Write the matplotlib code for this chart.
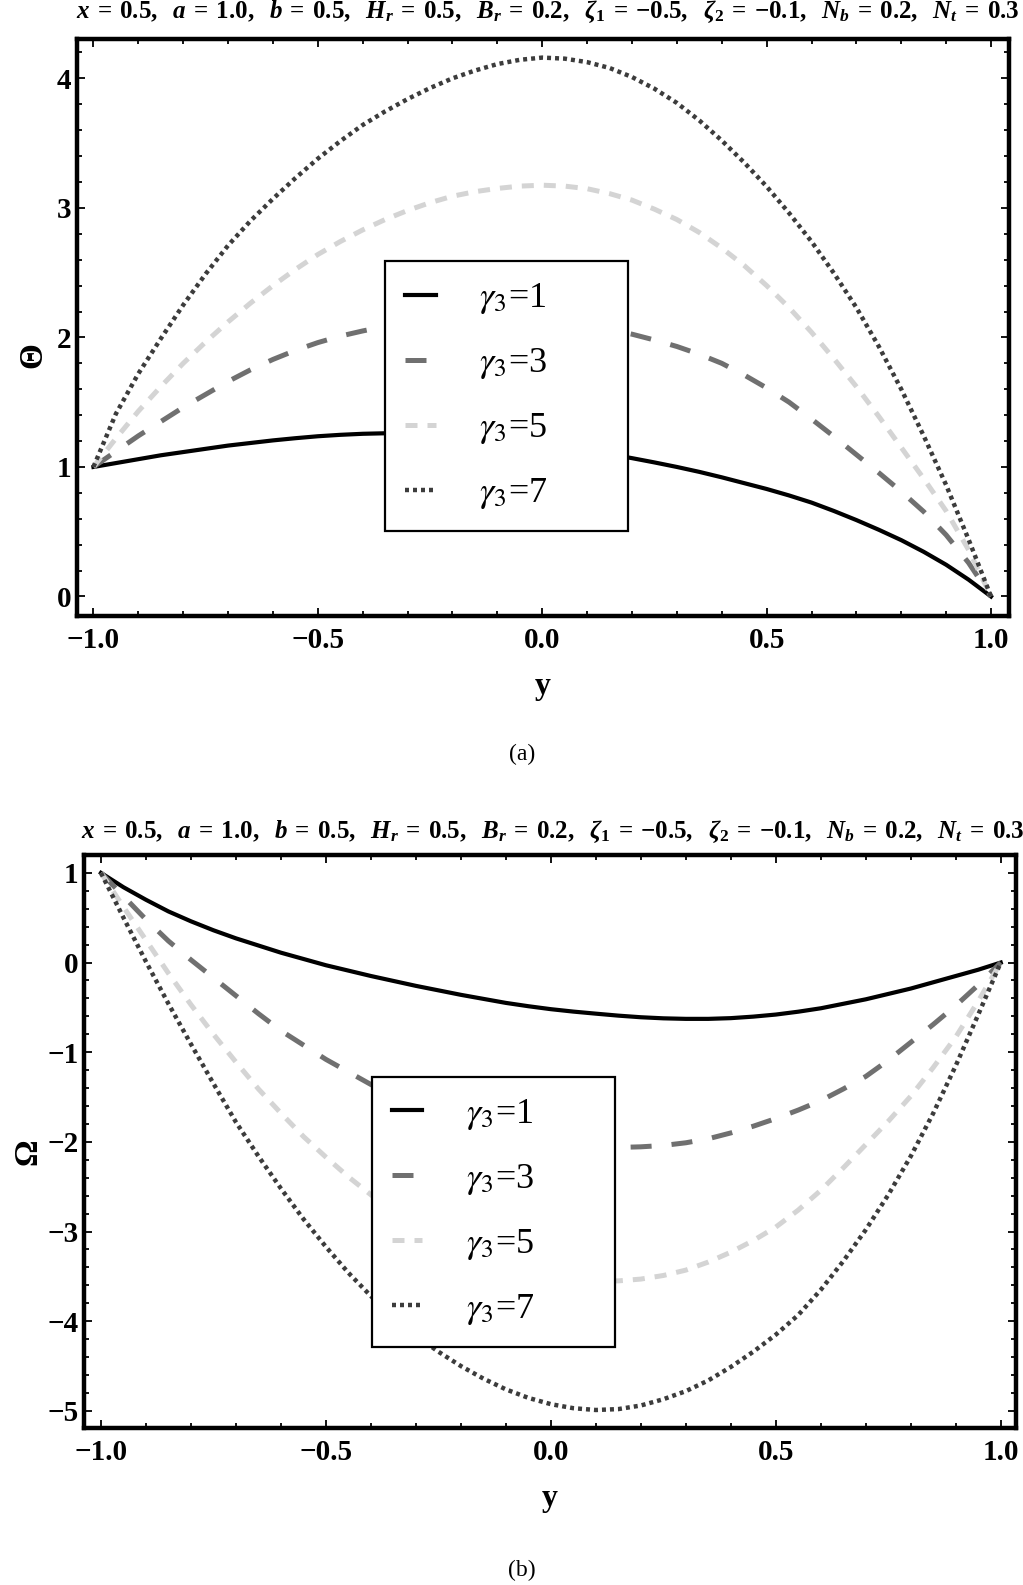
import matplotlib
matplotlib.use("Agg")
import matplotlib.pyplot as plt
from matplotlib.font_manager import FontProperties
from matplotlib.ticker import MultipleLocator

plt.rcParams['font.family'] = ['Liberation Serif', 'DejaVu Serif']
plt.rcParams['mathtext.fontset'] = 'custom'
plt.rcParams['mathtext.rm'] = 'Liberation Serif:bold'
plt.rcParams['mathtext.it'] = 'Liberation Serif:italic:bold'
plt.rcParams['mathtext.bf'] = 'Liberation Serif:bold'

# ---- data ----
gammas = [1, 3, 5, 7]
labels = [r'$\gamma_3$=%d' % g for g in gammas]
params = [('x', '0.5'), ('a', '1.0'), ('b', '0.5'), ('H_r', '0.5'), ('B_r', '0.2'),
          (r'\zeta_1', '-0.5'), (r'\zeta_2', '-0.1'), ('N_b', '0.2'), ('N_t', '0.3')]
title = '$' + r',\ \;'.join(r'%s\:=\:%s' % p for p in params) + '$'

y_a = [-1.0, -0.95, -0.9, -0.85, -0.8, -0.75, -0.7, -0.65, -0.6, -0.55, -0.5, -0.45,
       -0.4, -0.35, -0.3, -0.25, -0.2, -0.15, -0.1, -0.05, 0.0, 0.05, 0.1, 0.15, 0.2,
       0.25, 0.3, 0.35, 0.4, 0.45, 0.5, 0.55, 0.6, 0.65, 0.7, 0.75, 0.8, 0.85, 0.9,
       0.95, 1.0]
theta_g1 = [1.0, 1.03, 1.06, 1.09, 1.115, 1.14, 1.165, 1.185, 1.205, 1.222, 1.237, 1.248,
            1.256, 1.26, 1.261, 1.258, 1.25, 1.238, 1.222, 1.202, 1.18, 1.155, 1.128,
            1.099, 1.068, 1.035, 1.0, 0.962, 0.92, 0.875, 0.83, 0.78, 0.725, 0.66, 0.59,
            0.515, 0.435, 0.345, 0.245, 0.13, 0.0]
theta_g3 = [1.0, 1.12, 1.24, 1.35, 1.46, 1.56, 1.66, 1.75, 1.83, 1.90, 1.96, 2.01,
            2.05, 2.085, 2.11, 2.13, 2.143, 2.15, 2.152, 2.146, 2.13, 2.115, 2.09,
            2.06, 2.025, 1.98, 1.93, 1.87, 1.80, 1.71, 1.61, 1.50, 1.37, 1.235, 1.095,
            0.955, 0.81, 0.655, 0.475, 0.26, 0.0]
theta_g5 = [1.0, 1.22, 1.43, 1.62, 1.80, 1.965, 2.12, 2.265, 2.40, 2.525, 2.64, 2.74,
            2.83, 2.91, 2.98, 3.04, 3.09, 3.125, 3.15, 3.168, 3.175, 3.168, 3.148,
            3.11, 3.06, 2.99, 2.91, 2.81, 2.69, 2.555, 2.40, 2.23, 2.04, 1.835, 1.62,
            1.39, 1.15, 0.91, 0.66, 0.36, 0.0]
theta_g7 = [1.0, 1.41, 1.72, 1.99, 2.25, 2.49, 2.71, 2.90, 3.07, 3.23, 3.38, 3.515,
            3.64, 3.745, 3.84, 3.925, 4.00, 4.06, 4.11, 4.143, 4.16, 4.152, 4.125,
            4.08, 4.01, 3.92, 3.81, 3.675, 3.52, 3.35, 3.165, 2.96, 2.74, 2.495, 2.23,
            1.93, 1.60, 1.24, 0.86, 0.44, 0.0]

y_b = [-1.0, -0.95, -0.9, -0.85, -0.8, -0.75, -0.7, -0.65, -0.6, -0.55, -0.5, -0.45,
       -0.4, -0.35, -0.3, -0.25, -0.2, -0.15, -0.1, -0.05, 0.0, 0.05, 0.1, 0.15, 0.2,
       0.25, 0.3, 0.35, 0.4, 0.45, 0.5, 0.55, 0.6, 0.65, 0.7, 0.75, 0.8, 0.85, 0.9,
       0.95, 1.0]
omega_g1 = [1.0, 0.84, 0.70, 0.57, 0.46, 0.36, 0.27, 0.19, 0.11, 0.04, -0.03, -0.09,
            -0.15, -0.205, -0.26, -0.31, -0.36, -0.405, -0.45, -0.487, -0.52, -0.547,
            -0.57, -0.592, -0.61, -0.622, -0.628, -0.628, -0.62, -0.603, -0.58, -0.548,
            -0.51, -0.46, -0.41, -0.35, -0.29, -0.22, -0.15, -0.08, 0.0]
omega_g3 = [1.0, 0.74, 0.48, 0.24, 0.03, -0.17, -0.37, -0.57, -0.76, -0.92, -1.08, -1.22,
            -1.36, -1.485, -1.60, -1.70, -1.79, -1.865, -1.93, -1.98, -2.02, -2.045,
            -2.06, -2.062, -2.055, -2.04, -2.01, -1.965, -1.90, -1.825, -1.74, -1.645,
            -1.54, -1.41, -1.27, -1.09, -0.89, -0.69, -0.48, -0.25, 0.0]
omega_g5 = [1.0, 0.62, 0.25, -0.12, -0.47, -0.80, -1.11, -1.41, -1.68, -1.94, -2.17, -2.39,
            -2.59, -2.77, -2.93, -3.07, -3.19, -3.295, -3.38, -3.45, -3.50, -3.535,
            -3.55, -3.55, -3.53, -3.49, -3.43, -3.34, -3.23, -3.10, -2.95, -2.76,
            -2.54, -2.29, -2.03, -1.77, -1.49, -1.17, -0.83, -0.43, 0.0]
omega_g7 = [1.0, 0.50, 0.01, -0.46, -0.91, -1.35, -1.78, -2.16, -2.52, -2.86, -3.17, -3.46,
            -3.72, -3.95, -4.16, -4.34, -4.50, -4.64, -4.76, -4.855, -4.925, -4.97,
            -4.99, -4.98, -4.94, -4.87, -4.78, -4.66, -4.51, -4.34, -4.15, -3.93,
            -3.65, -3.33, -2.98, -2.59, -2.16, -1.68, -1.15, -0.58, 0.0]

styles = [dict(color='black', lw=3.0),
          dict(color='#707070', lw=3.6, dashes=(4.2, 4.0)),
          dict(color='#d4d4d4', lw=3.6, dashes=(2.4, 2.0)),
          dict(color='#3c3c3c', lw=3.2, dashes=(0.9, 0.9))]

tick_font = dict(family='Liberation Serif', weight='bold', size=21)
leg_font = FontProperties(family='Liberation Serif', size=26, math_fontfamily='stix')

fig = plt.figure(figsize=(10.23, 15.85), dpi=100)


def style_axes(ax, xlim, ylim, yticks, ylabel, lab_xy):
    ax.set_xlim(*xlim)
    ax.set_ylim(*ylim)
    xt = [-1.0, -0.5, 0.0, 0.5, 1.0]
    ax.set_xticks(xt, [('%.1f' % v).replace('-', '\u2212') for v in xt], **tick_font)
    ax.set_yticks(yticks, [('%d' % v).replace('-', '\u2212') for v in yticks], **tick_font)
    ax.xaxis.set_minor_locator(MultipleLocator(0.1))
    ax.yaxis.set_minor_locator(MultipleLocator(0.2))
    ax.tick_params(which='both', direction='in', top=True, right=True, width=1.3)
    ax.tick_params(which='major', length=6)
    ax.tick_params(which='minor', length=3.5)
    ax.tick_params(axis='x', pad=8)
    ax.tick_params(axis='y', pad=4)
    for s in ax.spines.values():
        s.set_linewidth(3.2)
    ax.set_xlabel('y', fontsize=23, fontweight='bold', labelpad=13)
    ax.set_ylabel(ylabel, fontsize=24, fontweight='bold')
    ax.yaxis.set_label_coords(*lab_xy)


def add_legend(ax, x0, ytop, w):
    leg = ax.legend(loc='upper left', bbox_to_anchor=(x0, ytop, w, 0.0), mode='expand',
                    borderaxespad=0, prop=leg_font, handlelength=0.85, handletextpad=1.2,
                    labelspacing=0.83, borderpad=0.55, fancybox=False,
                    edgecolor='black', framealpha=1)
    leg.get_frame().set_linewidth(1.6)
    return leg


# ---- panel (a) ----
ax1 = fig.add_axes([0.0751, 0.6114, 0.9112, 0.3637])
for vals, st, lab in zip([theta_g1, theta_g3, theta_g5, theta_g7], styles, labels):
    ax1.plot(y_a, vals, label=lab, **st)
style_axes(ax1, (-1.037, 1.04), (-0.15, 4.30), [0, 1, 2, 3, 4], '\u0398', (-0.031, 0.453))
add_legend(ax1, 0.3306, 0.6149, 0.2607)
fig.text(0.535, 0.9886, title, ha='center', va='baseline', fontsize=18)
fig.text(0.51, 1 - 754 / 1585, '(a)', ha='center', va='center', fontsize=17)

# ---- panel (b) ----
ax2 = fig.add_axes([0.0820, 0.0991, 0.9112, 0.3615])
for vals, st, lab in zip([omega_g1, omega_g3, omega_g5, omega_g7], styles, labels):
    ax2.plot(y_b, vals, label=lab, **st)
style_axes(ax2, (-1.038, 1.034), (-5.19, 1.2), [1, 0, -1, -2, -3, -4, -5], '\u03a9',
           (-0.043, 0.482))
add_legend(ax2, 0.309, 0.6126, 0.2607)
fig.text(0.540, 0.4713, title, ha='center', va='baseline', fontsize=18)
fig.text(0.51, 1 - 1570 / 1585, '(b)', ha='center', va='center', fontsize=17)

fig.savefig('out.png', dpi=100)
